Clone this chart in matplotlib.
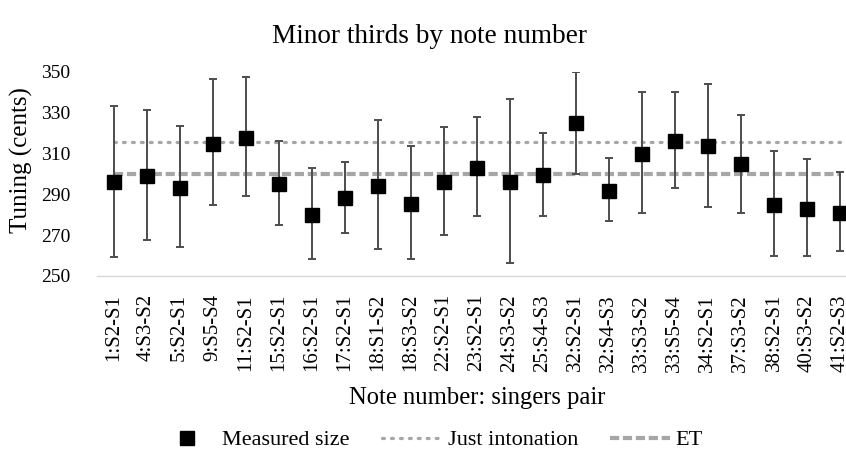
import numpy as np
import matplotlib
matplotlib.use('Agg')
import matplotlib.pyplot as plt
from matplotlib.lines import Line2D

# data
labels = ['1:S2-S1', '4:S3-S2', '5:S2-S1', '9:S5-S4', '11:S2-S1', '15:S2-S1',
          '16:S2-S1', '17:S2-S1', '18:S1-S2', '18:S3-S2', '22:S2-S1',
          '23:S2-S1', '24:S3-S2', '25:S4-S3', '32:S2-S1', '32:S4-S3',
          '33:S3-S2', '33:S5-S4', '34:S2-S1', '37:S3-S2', '38:S2-S1',
          '40:S3-S2', '41:S2-S3']
measured = [295.9, 299.0, 293.1, 314.9, 317.8, 295.1, 280.1, 288.2, 294.3,
            285.5, 295.9, 303.1, 296.1, 299.3, 324.8, 291.7, 310.0, 316.3,
            313.6, 304.7, 284.8, 282.8, 280.7]
upper = [333.3, 331.4, 323.5, 346.4, 347.7, 316.3, 302.9, 306.0, 326.5,
         313.7, 323.0, 327.8, 336.8, 320.3, 350.2, 307.7, 340.2, 340.2,
         344.0, 329.1, 311.3, 307.4, 301.1]
lower = [259.5, 267.6, 264.0, 284.8, 289.2, 275.0, 258.2, 271.2, 263.1,
         258.2, 269.9, 279.6, 256.2, 279.6, 300.0, 276.8, 280.7, 293.0,
         283.8, 281.0, 259.6, 259.6, 262.5]
just_intonation = 315.64
equal_temperament = 300.0
yticks = [250, 270, 290, 310, 330, 350]

plt.rcParams['font.family'] = ['Liberation Serif', 'DejaVu Serif']

W, H = 846, 451
fig = plt.figure(figsize=(W / 100, H / 100), dpi=100)

# plot area runs past the right edge of the picture (reference is cropped)
x0, x1, ytop, ybot = 97, 856.5, 72, 276
ax = fig.add_axes([x0 / W, 1 - ybot / H, (x1 - x0) / W, (ybot - ytop) / H])

x = np.arange(len(labels))
meas = np.array(measured)
err = [meas - np.array(lower), np.array(upper) - meas]

ji_style = dict(color='#a6a6a6', lw=2.3, linestyle=(0, (0.6, 2.2)),
                dash_capstyle='round')
et_style = dict(color='#a6a6a6', lw=3.0, linestyle=(0, (2.2, 0.9)))

ax.plot([x[0], x[-1]], [just_intonation] * 2, zorder=1, **ji_style)
ax.plot([x[0], x[-1]], [equal_temperament] * 2, zorder=1, **et_style)

ax.errorbar(x, meas, yerr=err, fmt='none', ecolor='#4d4d4d', elinewidth=1.4,
            capsize=3.0, capthick=1.4, zorder=2)
ax.plot(x, meas, 's', color='black', ms=10, zorder=3, linestyle='none')

ax.set_xlim(-0.5, len(labels) - 0.5)
ax.set_ylim(250, 350)
ax.set_yticks(yticks)
ax.set_xticks(x)
ax.set_xticklabels(labels, rotation=90, fontsize=15)
ax.tick_params(axis='y', length=0, pad=19, labelsize=14)
ax.tick_params(axis='x', length=0, pad=13)

for s in ['top', 'right', 'left']:
    ax.spines[s].set_visible(False)
ax.spines['bottom'].set_color('#d9d9d9')
ax.spines['bottom'].set_linewidth(1.0)

fig.text(430 / W, 1 - 43 / H, 'Minor thirds by note number', ha='center',
         va='baseline', fontsize=19.6)
fig.text(21 / W, 1 - 160 / H, 'Tuning (cents)', rotation=90, ha='center',
         va='center', fontsize=18)
fig.text(477 / W, 1 - 404 / H, 'Note number: singers pair', ha='center',
         va='baseline', fontsize=17.7)

handles = [
    Line2D([], [], marker='s', color='black', ms=10, linestyle='none'),
    Line2D([], [], **ji_style),
    Line2D([], [], **et_style),
]
fig.legend(handles, ['Measured size', 'Just intonation', 'ET'],
           loc='center', bbox_to_anchor=(430 / W, 1 - 440 / H), ncol=3,
           frameon=False, fontsize=16, handlelength=2.7, handletextpad=0.25,
           columnspacing=1.45, borderpad=0.1)

fig.savefig('out.png', dpi=100)
